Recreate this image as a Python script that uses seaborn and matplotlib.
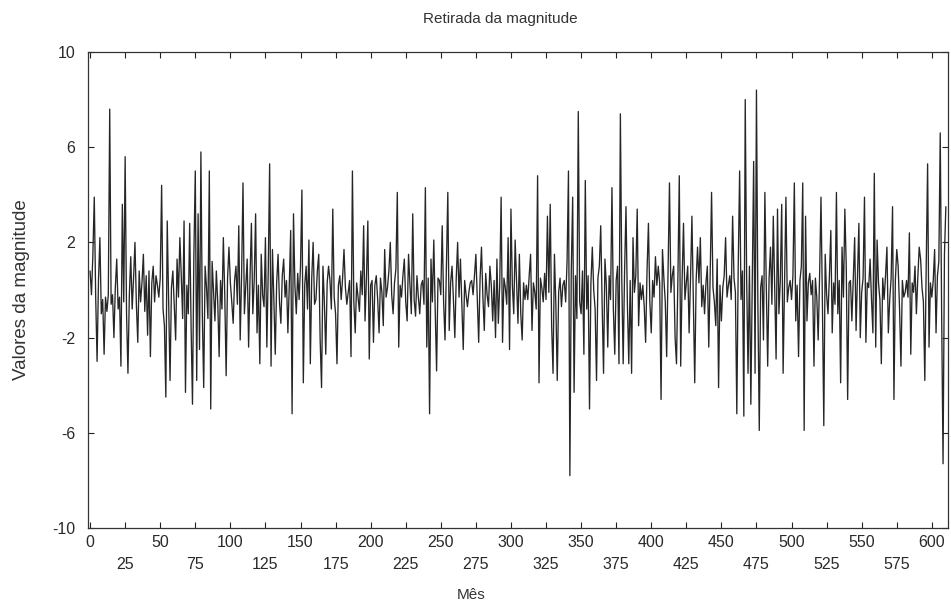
import numpy as np
import pandas as pd
import matplotlib
matplotlib.use("Agg")
import matplotlib.pyplot as plt
import seaborn as sns

# Monthly series, one list per block of 100 months
valores_000 = [0.8, -0.2, 1.5, 3.9, -0.3, -3.0, 0.4, 2.2, -1.0, -0.4,
               -2.7, -0.3, -0.9, -0.2, 7.6, -0.6, -0.2, -2.0, 0.1, 1.3,
               -0.8, -0.3, -3.2, 3.6, -0.5, 5.6, -1.0, -3.5, -0.2, 1.4,
               -0.8, 0.5, 2.0, -0.6, -2.2, 0.8, -0.5, 0.3, 1.5, -0.9,
               0.6, -1.9, 0.8, -2.8, 0.3, 1.0, -0.5, 0.6, 0.2, -0.3,
               0.5, 4.4, -0.8, -1.5, -4.5, 2.9, -0.5, -3.8, 0.1, 0.8,
               -0.6, -2.1, 1.3, -0.3, 2.2, 0.6, -1.2, 2.9, -4.3, 0.2,
               -1.0, 2.8, -1.5, -4.8, 1.5, 5.0, -3.8, 3.2, -2.5, 5.8,
               -1.0, -4.1, 1.0, 0.1, -1.2, 5.0, -5.0, 1.2, -0.1, -1.3,
               0.8, -0.5, -2.8, 0.4, -0.8, 2.2, -0.2, -3.6, 0.5, 1.8]
valores_100 = [0.3, -0.5, -1.4, 0.4, 1.0, -0.6, 2.7, -2.1, 0.6, 4.5,
               -1.0, 0.2, 1.3, -2.4, 0.5, 2.8, -1.0, 0.4, 3.2, -1.8,
               0.2, -3.1, 1.5, -0.2, -0.7, 2.2, -2.4, 0.8, 5.3, -3.2,
               1.7, -0.4, -2.7, 0.3, 1.5, -0.5, -1.4, 0.6, 1.3, -0.3,
               0.4, -1.8, 0.2, 2.5, -5.2, 3.2, 0.2, -1.0, 0.7, -0.4,
               1.0, 4.2, -3.9, 0.2, 1.0, -0.8, 2.1, -3.1, 0.5, 2.0,
               -0.6, -0.4, 0.8, 1.5, -2.1, -4.1, 1.0, -0.5, -2.7, 0.3,
               1.0, 0.4, -0.8, 3.4, -0.3, -1.0, -3.1, 0.2, 0.6, -0.4,
               0.5, 1.7, 0.1, -0.6, -0.1, 0.4, -2.8, 5.0, -0.5, -1.8,
               0.3, -0.3, -0.9, 0.8, -0.2, 2.7, -1.3, 0.5, 2.9, -2.9]
valores_200 = [0.2, 0.4, -2.2, 0.2, 0.6, -0.4, -1.8, 0.5, -0.1, -1.5,
               1.7, -0.3, 0.1, 0.8, 2.0, -0.2, -1.0, 0.3, 0.9, 4.1,
               -2.4, 0.2, -0.3, 0.6, 1.3, -0.5, -1.3, 1.5, 0.2, -1.0,
               3.2, -0.4, -1.1, 0.6, -0.3, -1.0, 0.2, 0.4, -0.6, 4.3,
               -2.4, 0.5, -5.2, 1.3, -0.5, 2.1, -0.8, -3.4, 0.5, 0.4,
               -0.2, 2.7, -0.5, -2.1, 1.0, 4.1, -1.7, 0.3, 1.0, -0.4,
               -2.0, 0.5, 2.0, -0.3, 1.3, -0.6, -2.5, 0.4, -0.2, -0.7,
               -0.1, 0.3, 0.4, -0.2, 0.6, 1.5, -0.4, -2.2, 0.5, 1.8,
               -0.3, -1.7, 0.7, -0.2, -0.7, 1.0, 0.2, -1.3, 0.4, -2.0,
               1.3, -1.4, 0.2, 3.9, -2.2, 0.5, 0.1, -0.6, 2.2, -2.5]
valores_300 = [3.4, 0.2, -1.0, 2.1, 0.3, -1.4, 1.5, -1.0, -2.1, 0.3,
               -0.4, 0.2, -0.4, 0.6, 1.5, -1.7, 0.3, -0.1, -0.8, 4.8,
               -3.9, 0.5, 0.1, -0.5, 0.7, -0.4, 3.1, -0.1, 3.6, -1.5,
               -3.5, 1.5, -0.6, -3.8, -0.1, 0.5, -0.7, 0.2, 0.4, -0.5,
               1.2, 5.0, -7.8, 0.8, 3.9, -4.3, 0.6, -1.2, 7.5, -0.5,
               -1.0, 0.8, -2.7, 4.6, -0.8, 0.6, -5.0, 0.3, 1.8, 0.0,
               -0.8, -3.8, 0.5, 1.0, 2.7, -0.6, -3.5, 1.3, 0.2, -2.4,
               0.6, -0.4, 4.3, -0.8, -2.7, 0.4, 1.0, -3.1, 7.4, 0.5,
               -3.1, 0.8, 3.5, -0.6, -3.1, 0.4, -3.5, 2.2, -0.1, 0.6,
               3.4, -1.5, 0.3, -0.4, 0.2, -0.7, -2.2, 0.8, 2.8, -0.5]
valores_400 = [-1.8, 0.4, -0.3, 1.4, 0.2, 1.0, 0.3, -4.6, 1.7, 0.5,
               -0.5, -2.8, 0.8, 4.5, -0.1, 0.6, 1.0, -2.0, -3.1, 0.5,
               4.8, -3.2, 0.4, 2.8, -0.4, 0.3, 1.0, -1.8, 0.5, 3.1,
               -0.5, -3.9, 0.4, 1.8, 0.3, 2.2, -0.7, 0.2, -1.0, 0.3,
               1.0, -2.4, 0.6, 4.1, 0.1, -0.5, -1.5, 1.3, -4.1, 0.2,
               -1.3, 0.1, 0.6, 2.2, -0.3, 0.2, 0.6, -0.4, 3.1, 0.5,
               -0.1, -5.2, 1.0, 5.0, -0.4, 0.8, -5.3, 8.0, 0.5, -3.5,
               1.0, -4.8, 0.3, 5.4, -3.5, 8.4, -0.5, -5.9, 0.1, 0.6,
               -2.1, 4.1, 0.2, -3.2, 0.5, 1.8, -0.6, 3.1, 0.2, -2.9,
               3.4, -1.0, 0.4, 3.6, -3.5, 0.3, 3.9, -0.5, 0.1, 0.4]
valores_500 = [-0.4, 0.6, 4.5, -1.3, 0.2, -2.8, 0.4, 1.0, 4.5, -5.9,
               3.1, -1.3, 0.3, 0.7, -0.2, 0.4, -3.2, 0.5, -0.3, -2.1,
               0.6, 3.9, -0.5, -5.7, 1.5, -0.2, -1.0, 0.6, 2.5, -1.8,
               0.3, -0.6, 4.1, -1.0, 0.4, -3.9, 1.8, -0.3, 3.4, 1.0,
               -4.6, 0.3, 0.4, -1.3, 0.5, 2.2, -1.7, 0.6, 2.8, -2.0,
               -0.1, 0.5, 3.9, -2.2, 0.3, 0.1, 1.3, -0.4, -1.8, 4.9,
               -2.4, 2.1, 0.3, -0.4, -3.1, 0.5, -0.4, 0.6, 1.8, -1.8,
               -0.4, 0.5, 3.5, -4.6, 0.4, 1.7, 1.0, -0.8, -3.2, 0.4,
               -0.3, -0.1, 0.4, -0.3, 2.4, -2.7, 0.3, -0.1, 1.0, -1.0,
               0.5, 1.8, 1.3, 0.1, -0.5, -3.8, 1.0, 5.3, -2.4, 0.3]
valores_600 = [-0.3, 0.4, 1.7, -1.8, 0.6, 1.2, 6.6, -1.0, -7.3, 1.5,
               3.5]

yticks = [10, 6, 2, -2, -6, -10]
xticks_sup = [0, 50, 100, 150, 200, 250, 300, 350, 400, 450, 500, 550, 600]
xticks_inf = [25, 75, 125, 175, 225, 275, 325, 375, 425, 475, 525, 575]

valores = (valores_000 + valores_100 + valores_200 + valores_300
           + valores_400 + valores_500 + valores_600)
df = pd.DataFrame({"Mês": np.arange(len(valores)), "Valor": valores})

sns.set_theme(style="ticks")
plt.rcParams["font.family"] = ["Liberation Sans", "DejaVu Sans"]

fig = plt.figure(figsize=(9.51, 6.10), dpi=100)
ax = fig.add_axes([0.0925, 0.1344, 0.9043, 0.7804])

sns.lineplot(data=df, x="Mês", y="Valor", ax=ax, color="#262626",
             linewidth=0.95, estimator=None)

ax.set_xlim(-1.5, 611.5)
ax.set_ylim(-10, 10)
ax.set_yticks(yticks)
ax.set_yticklabels([str(v) for v in yticks])

ticks = sorted(xticks_sup + xticks_inf)
labels = [str(t) if t in xticks_sup else "\n" + str(t) for t in ticks]
ax.set_xticks(ticks)
ax.set_xticklabels(labels, linespacing=1.55)

ax.tick_params(axis="both", which="both", direction="in", labelsize=11.5,
               top=True, right=True, length=4, width=0.8, colors="#222222",
               labelcolor="#2a2a2a")
ax.tick_params(axis="x", pad=5)
ax.tick_params(axis="y", pad=9)
for s in ax.spines.values():
    s.set_linewidth(0.9)
    s.set_color("#333333")

ax.set_xlabel("Mês", fontsize=11, color="#333333")
ax.xaxis.set_label_coords(0.445, -0.126)
ax.set_ylabel("Valores da magnitude", fontsize=13.5, color="#333333",
              labelpad=16)
ax.set_title("Retirada da magnitude", fontsize=11, color="#333333", pad=21,
             x=0.479)

fig.savefig("out.png", dpi=100, facecolor="white")
